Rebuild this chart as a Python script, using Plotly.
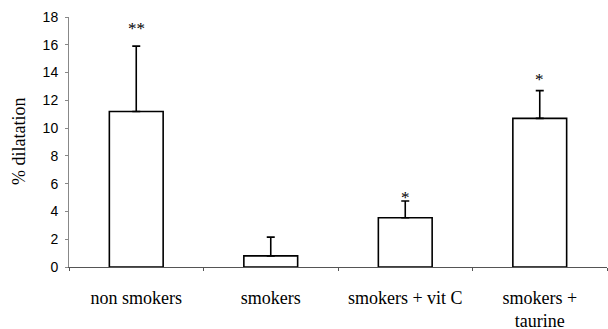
import plotly.graph_objects as go

categories = ["non smokers", "smokers", "smokers + vit C", "smokers +<br>taurine"]
means = [11.2, 0.8, 3.55, 10.7]
errors = [4.7, 1.35, 1.2, 2.0]
stars = ["**", "", "*", "*"]
star_y = [17.2, None, 5.0, 13.5]
y_ticks = [0, 2, 4, 6, 8, 10, 12, 14, 16, 18]
y_title = "% dilatation"

SERIF = "Liberation Serif, Times New Roman, serif"
SANS = "Liberation Sans, Arial, sans-serif"

fig = go.Figure()
fig.add_trace(go.Bar(
    x=categories, y=means, width=0.4,
    marker=dict(color="white", line=dict(color="black", width=1.6)),
    error_y=dict(type="data", array=errors, arrayminus=[0]*4, symmetric=False,
                 color="black", thickness=1.6, width=4),
    showlegend=False,
))

for c, s, sy in zip(categories, stars, star_y):
    if s:
        fig.add_annotation(x=c, y=sy, text=s, showarrow=False, yanchor="middle",
                           font=dict(family=SERIF, size=17, color="#000000"))

fig.add_annotation(xref="paper", yref="paper", x=0, y=0.5, xshift=-50,
                   text=y_title, textangle=-90, showarrow=False,
                   xanchor="center", yanchor="middle",
                   font=dict(family=SERIF, size=18, color="black"))

fig.update_layout(
    width=608, height=329,
    margin=dict(l=69, r=1, t=17, b=62),
    paper_bgcolor="white", plot_bgcolor="white",
    font=dict(family=SERIF, color="black"),
    bargap=0.6,
)
fig.update_xaxes(
    showline=True, linecolor="#555", linewidth=1,
    ticks="outside", tickson="boundaries", ticklen=3, tickcolor="#555",
    tickfont=dict(family=SERIF, size=18, color="black"),
    ticklabelstandoff=14, showgrid=False, automargin=False,
)
fig.update_yaxes(
    range=[0, 18], tickvals=y_ticks, showline=True, linecolor="#888", linewidth=1,
    ticks="outside", ticklen=3, tickcolor="#888",
    tickfont=dict(family=SANS, size=14, color="black"),
    ticklabelstandoff=4,
    showgrid=False, zeroline=False, automargin=False,
)
fig.write_html("out.html", config={"displayModeBar": False},
               post_script="document.body.style.margin='0';document.body.style.overflow='hidden';")
